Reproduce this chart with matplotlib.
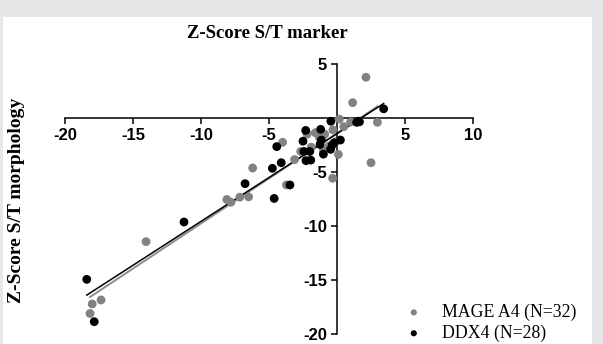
import numpy as np
import matplotlib
matplotlib.use('Agg')
import matplotlib.pyplot as plt
from matplotlib.patches import Rectangle

plt.rcParams['axes.unicode_minus'] = False

# MAGE A4 (gray) z-scores: marker (x) vs morphology (y)
mage_x = [2.13, 1.15, 2.97, 1.0, 0.17, -1.6, -0.9, -0.3, 2.5, 0.1, -0.32,
          -2.67, -3.12, -4.0, -6.2, -3.72, -6.5, -7.15, -8.1, -14.04,
          -17.35, -18.0, -18.16,
          -1.3, -0.6, -1.9, 0.5, -2.2, -7.8, -1.0, 1.6, -0.1]
mage_y = [3.77, 1.42, -0.4, -0.37, -0.1, -1.36, -1.5, -1.1, -4.14, -3.37, -5.58,
          -3.1, -3.85, -2.25, -4.63, -6.2, -7.3, -7.33, -7.55, -11.45,
          -16.85, -17.22, -18.1,
          -1.8, -2.6, -2.7, -0.8, -1.5, -7.8, -3.0, -0.3, -2.2]

# DDX4 (black)
ddx_x = [3.43, 1.65, 1.45, -0.45, -1.2, -2.3, -0.22, 0.25, -0.47, -1.15,
         -1.25, -1.0, -2.5, -2.43, -2.0, -2.28, -1.93, -4.43, -4.1, -4.75,
         -6.76, -3.46, -4.62, -11.25, -18.4, -17.85, 1.55, -0.35]
ddx_y = [0.85, -0.35, -0.4, -0.3, -1.05, -1.15, -2.3, -2.04, -2.9, -2.04,
         -2.45, -3.35, -2.15, -3.1, -3.1, -3.95, -3.9, -2.65, -4.14, -4.66,
         -6.08, -6.2, -7.45, -9.63, -14.94, -18.86, -0.3, -2.5]

xticks = [-20, -15, -10, -5, 5, 10]
yticks = [5, -5, -10, -15, -20]

GRAY = '#828282'
W, H = 603, 344
fig = plt.figure(figsize=(W / 100, H / 100), dpi=100)
fig.patch.set_facecolor('#e6e7e9')
fig.patches.append(Rectangle((3 / W, 0), (592 - 3) / W, (H - 17) / H,
                             transform=fig.transFigure, facecolor='white',
                             edgecolor='none', zorder=-5))

ax = fig.add_axes([65 / W, 1 - 334 / H, (473 - 65) / W, (334 - 64) / H])
ax.set_zorder(2)
ax.patch.set_alpha(0)

ax.scatter(mage_x, mage_y, s=40, color=GRAY, edgecolors='none', zorder=3,
           label='MAGE A4 (N=32)')
ax.scatter(ddx_x, ddx_y, s=40, color='black', edgecolors='none', zorder=4,
           label='DDX4 (N=28)')

# linear fits
for xs, ys, c, lw in [(mage_x, mage_y, '#8c8c8c', 1.4), (ddx_x, ddx_y, 'black', 1.1)]:
    k, b = np.polyfit(xs, ys, 1)
    xx = np.array([min(xs), max(xs)])
    ax.plot(xx, k * xx + b, color=c, lw=lw, zorder=2)

ax.set_xlim(-20, 10)
ax.set_ylim(-20, 5)
for s in ['top', 'right']:
    ax.spines[s].set_visible(False)
ax.spines['left'].set_position(('data', 0))
ax.spines['bottom'].set_position(('data', 0))
for s in ['left', 'bottom']:
    ax.spines[s].set_linewidth(1.1)
ax.set_xticks(xticks)
ax.set_yticks(yticks)
ax.tick_params(direction='out', length=4, width=1.1, pad=3)
for lab in ax.get_xticklabels() + ax.get_yticklabels():
    lab.set_fontfamily('Liberation Sans')
    lab.set_fontweight('bold')
    lab.set_fontsize(12)

fig.text(267 / W, 1 - 33 / H, 'Z-Score S/T marker', ha='center', va='center',
         fontsize=13.5, fontweight='bold', family='Liberation Serif')
fig.text(17 / W, 1 - 200 / H, 'Z-Score S/T morphology', ha='center', va='center',
         rotation=90, fontsize=14, fontweight='bold', family='Liberation Serif')

ax.legend(loc='lower left', bbox_to_anchor=(380 / W, -14 / H), bbox_transform=fig.transFigure,
          frameon=False, markerscale=0.7, handletextpad=0.6, labelspacing=0.2,
          prop={'family': 'Liberation Serif', 'size': 12.8})

fig.savefig('out.png', dpi=100, facecolor=fig.get_facecolor())
